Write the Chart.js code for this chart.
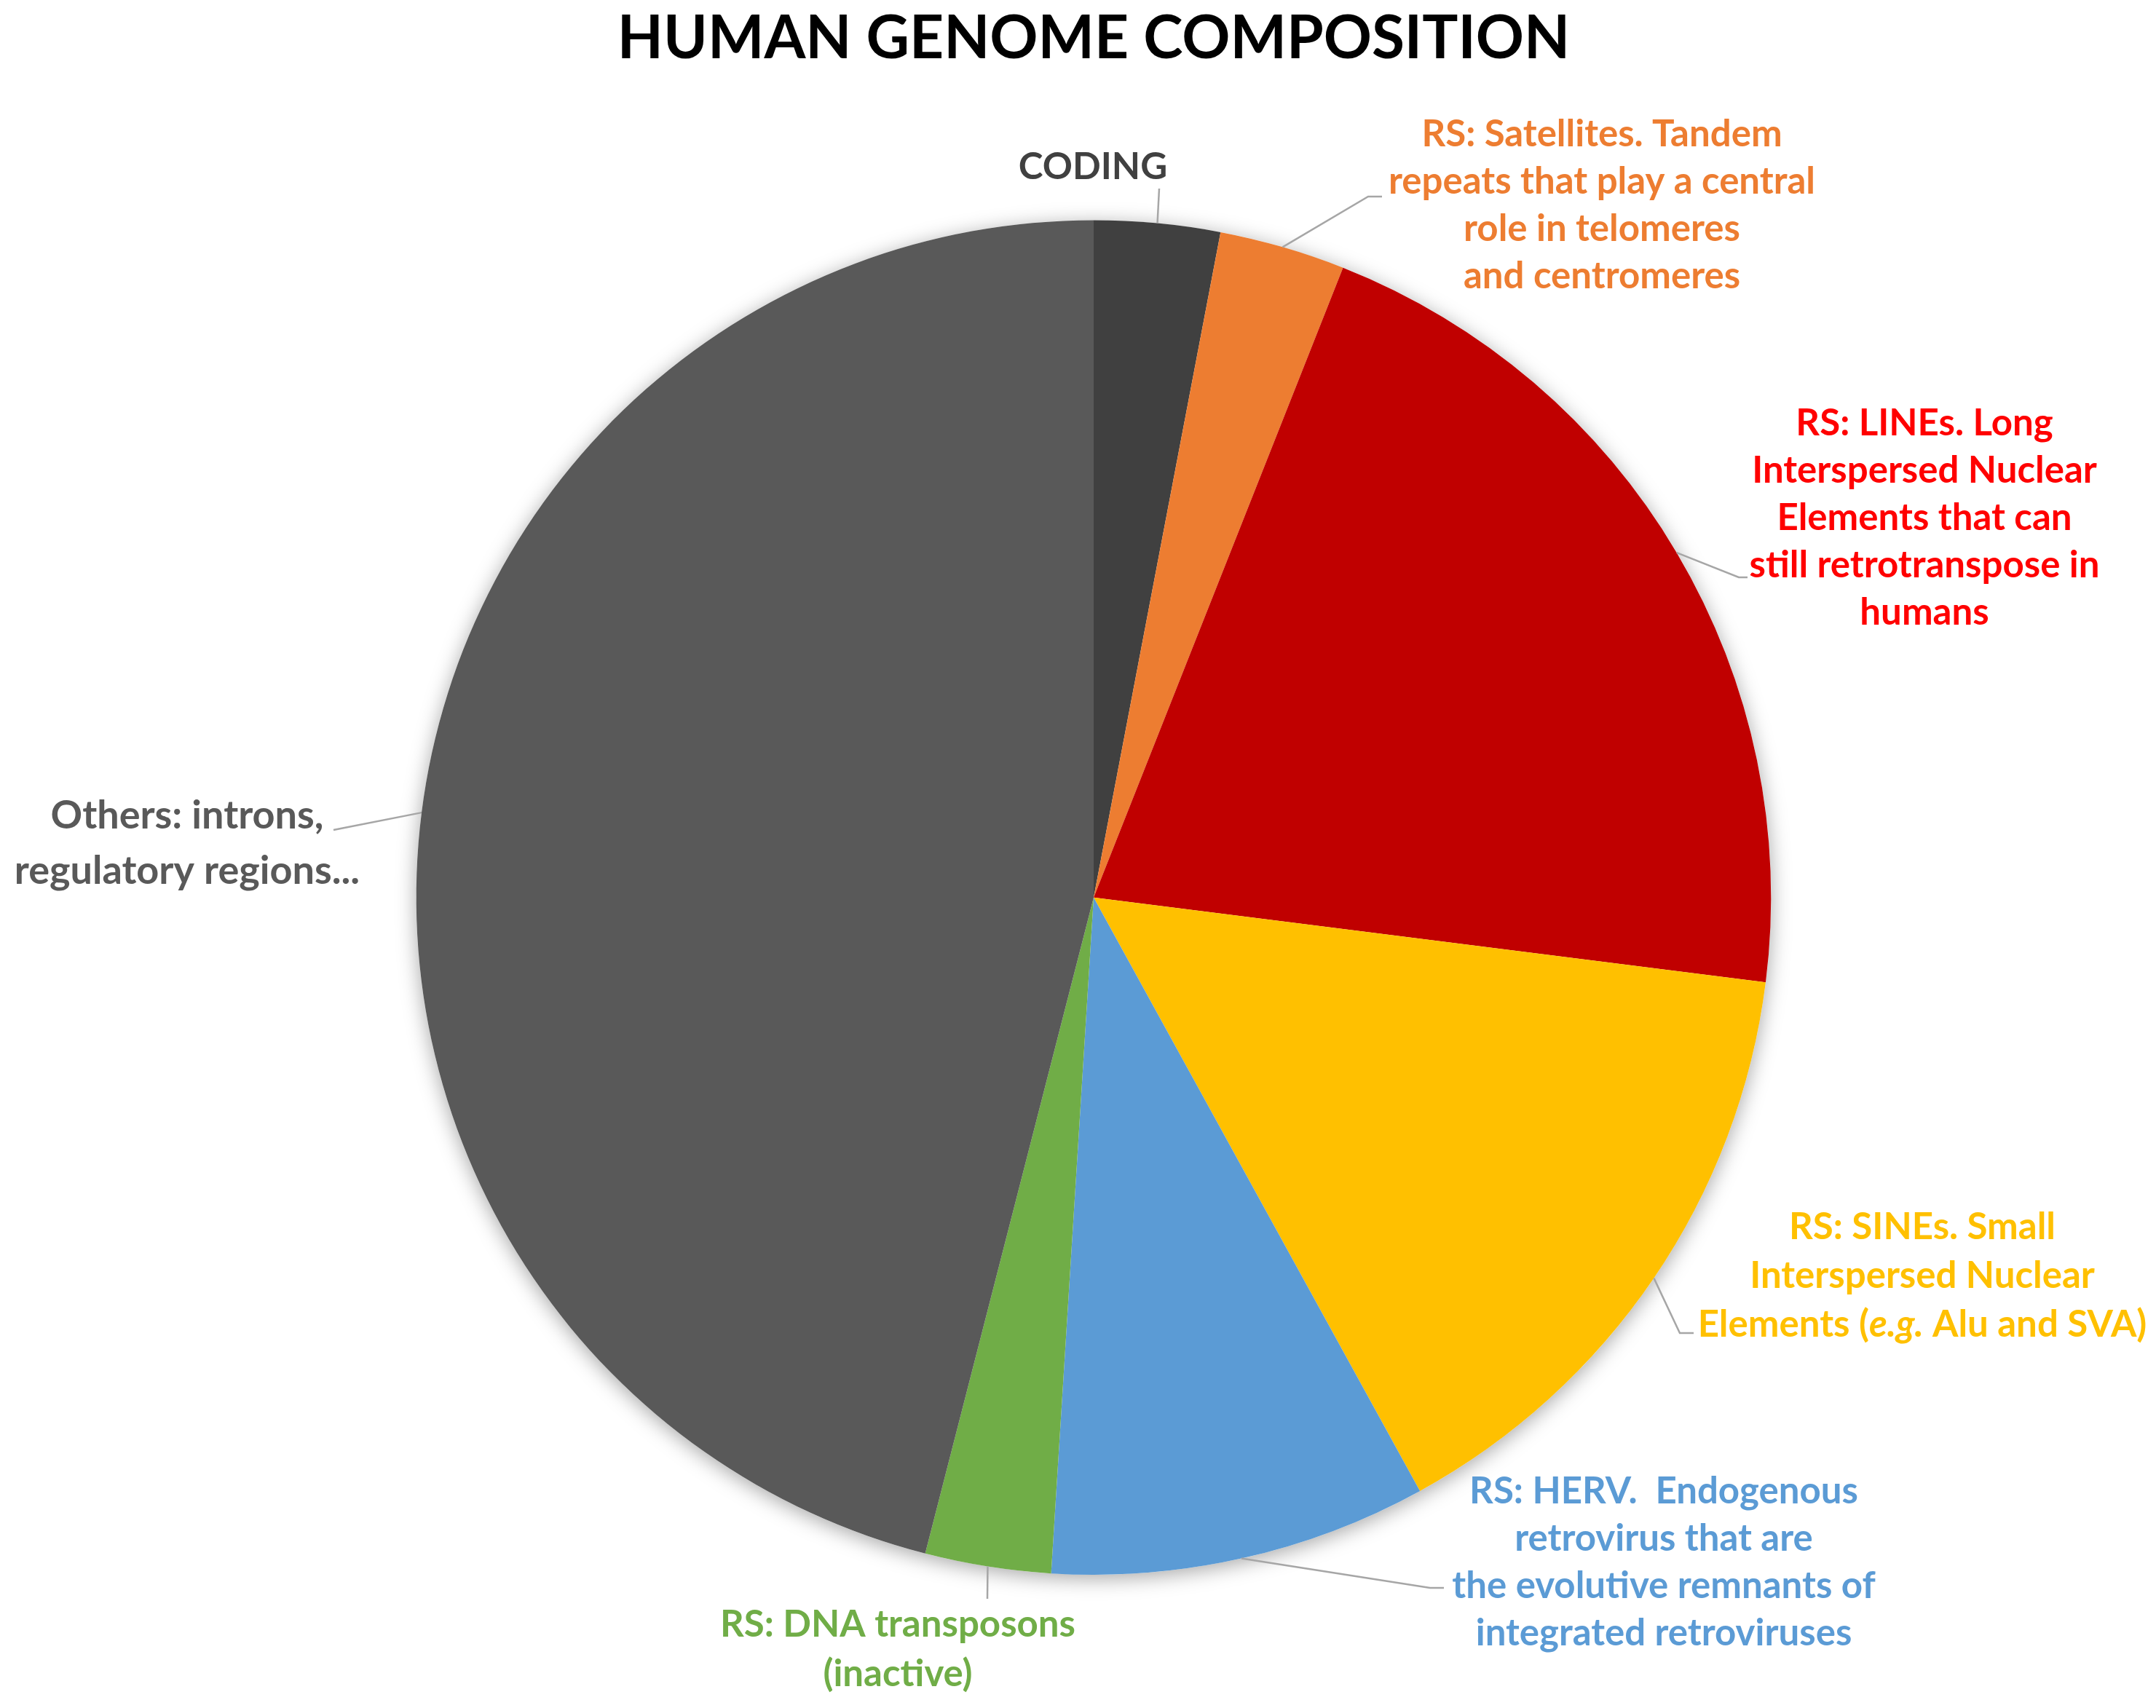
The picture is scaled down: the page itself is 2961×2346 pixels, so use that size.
<!DOCTYPE html>
<html>
<head>
<meta charset="utf-8">
<title>Human Genome Composition</title>
<script src="https://cdn.jsdelivr.net/npm/chart.js@4.4.1/dist/chart.umd.min.js"></script>
<style>
html, body { margin: 0; padding: 0; background: #fff; }
#wrap { width: 2961px; height: 2346px; }
</style>
</head>
<body>
<div id="wrap"><canvas id="genomeChart"></canvas></div>
<script>
// Data (percent of genome)
const categories = ['CODING', 'RS: Satellites', 'RS: LINEs', 'RS: SINEs', 'RS: HERV', 'RS: DNA transposons', 'Others'];
const shares = [3, 3, 21, 15, 9, 3, 46];
const sliceColors = ['#404040', '#ED7D31', '#C00000', '#FFC000', '#5B9BD5', '#70AD47', '#595959'];
const textColors = ['#404040', '#ED7D31', '#FF0000', '#FFC000', '#5B9BD5', '#70AD47', '#595959'];
// *...* marks italic runs
const labelLines = [
    ['CODING'],
    ['RS: Satellites. Tandem', 'repeats that play a central', 'role in telomeres', 'and centromeres'],
    ['RS: LINEs. Long', 'Interspersed Nuclear', 'Elements that can', 'still retrotranspose in', 'humans'],
    ['RS: SINEs. Small', 'Interspersed Nuclear', 'Elements (*e.g.* Alu and SVA)'],
    ['RS: HERV.  Endogenous', 'retrovirus that are', 'the evolutive remnants of', 'integrated retroviruses'],
    ['RS: DNA transposons', '(inactive)'],
    ['Others: introns,', 'regulatory regions...']
];

// Where each callout sits on the page (layout only)
const calloutLayout = [
    { cx: 1501, top: 230, lh: 66, size: 51, bend: null, end: [1592, 259] },
    { cx: 2200, top: 185, lh: 65, size: 51, bend: [1879, 270], end: [1898, 270] },
    { cx: 2643, top: 582, lh: 65, size: 51, bend: [2388, 793], end: [2400, 793] },
    { cx: 2640, top: 1686, lh: 67, size: 51, bend: [2307, 1831], end: [2326, 1831] },
    { cx: 2285, top: 2049, lh: 65, size: 51, bend: [1964, 2181], end: [1983, 2181] },
    { cx: 1233, top: 2232, lh: 68, size: 51, bend: null, end: [1356, 2196] },
    { cx: 257, top: 1121, lh: 76, size: 54, bend: [468, 1138], end: [458, 1140] }
];

function drawRichLine(ctx, line, cx, cy, color, size) {
    const plain = 'bold ' + size + 'px Lato';
    const italic = 'italic bold ' + size + 'px Lato';
    const parts = line.split('*');
    let total = 0;
    parts.forEach((p, i) => {
        ctx.font = i % 2 ? italic : plain;
        total += ctx.measureText(p).width;
    });
    let x = cx - total / 2;
    ctx.fillStyle = color;
    ctx.textAlign = 'left';
    ctx.textBaseline = 'middle';
    parts.forEach((p, i) => {
        ctx.font = i % 2 ? italic : plain;
        ctx.fillText(p, x, cy);
        x += ctx.measureText(p).width;
    });
}

const calloutPlugin = {
    id: 'callouts',
    beforeDatasetsDraw(chart) {
        // soft shadow under the whole pie
        const first = chart.getDatasetMeta(0).data[0];
        const { x, y, outerRadius } = first.getProps(['x', 'y', 'outerRadius'], true);
        const ctx = chart.ctx;
        ctx.save();
        ctx.shadowColor = 'rgba(0, 0, 0, 0.35)';
        ctx.shadowBlur = 28;
        ctx.shadowOffsetY = 5;
        ctx.fillStyle = '#ffffff';
        ctx.beginPath();
        ctx.arc(x, y, outerRadius, 0, Math.PI * 2);
        ctx.fill();
        ctx.restore();
    },
    afterDatasetsDraw(chart) {
        const ctx = chart.ctx;
        const meta = chart.getDatasetMeta(0);
        ctx.save();
        meta.data.forEach((arc, i) => {
            const p = arc.getProps(['x', 'y', 'startAngle', 'endAngle', 'outerRadius'], true);
            const mid = (p.startAngle + p.endAngle) / 2;
            const sx = p.x + Math.cos(mid) * p.outerRadius;
            const sy = p.y + Math.sin(mid) * p.outerRadius;
            const lay = calloutLayout[i];

            // leader line
            ctx.strokeStyle = '#A6A6A6';
            ctx.lineWidth = 2.5;
            ctx.beginPath();
            ctx.moveTo(sx, sy);
            if (lay.bend) ctx.lineTo(lay.bend[0], lay.bend[1]);
            ctx.lineTo(lay.end[0], lay.end[1]);
            ctx.stroke();

            // label text
            labelLines[i].forEach((line, k) => {
                drawRichLine(ctx, line, lay.cx, lay.top + k * lay.lh, textColors[i], lay.size);
            });
        });
        ctx.restore();
    }
};

function buildChart() {
    const ctx = document.getElementById('genomeChart').getContext('2d');
    new Chart(ctx, {
        type: 'pie',
        data: {
            labels: categories,
            datasets: [{
                data: shares,
                backgroundColor: sliceColors,
                borderWidth: 0
            }]
        },
        options: {
            responsive: true,
            maintainAspectRatio: false,
            animation: false,
            layout: {
                padding: { top: 0, bottom: 183, left: 571, right: 528 }
            },
            plugins: {
                legend: { display: false },
                tooltip: { enabled: false },
                title: {
                    display: true,
                    text: 'HUMAN GENOME COMPOSITION',
                    color: '#000000',
                    font: { family: 'Lato', weight: 'bold', size: 82, lineHeight: 1.2 },
                    padding: { top: 4, bottom: 200 }
                }
            }
        },
        plugins: [calloutPlugin]
    });
}

document.fonts.load('bold 51px Lato').then(buildChart, buildChart);
</script>
</body>
</html>
